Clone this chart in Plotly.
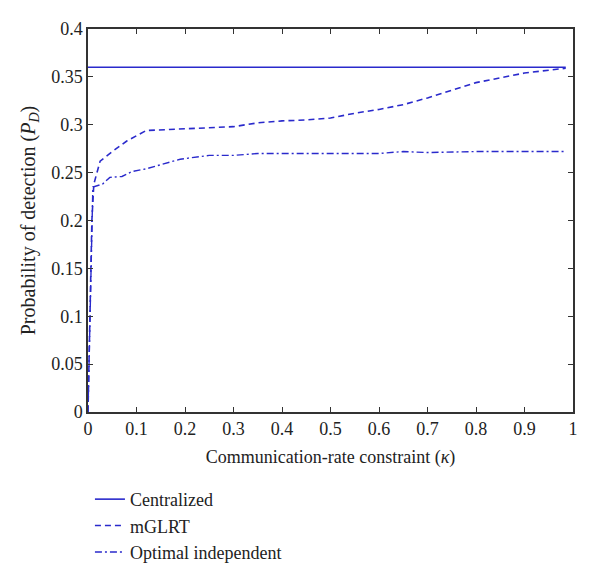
import plotly.graph_objects as go

# Data
central_x = [0.0, 0.985]
central_y = [0.36, 0.36]

mglrt_x = [0, 0.004, 0.008, 0.012, 0.025, 0.05, 0.08, 0.12, 0.2, 0.3, 0.35, 0.4,
           0.45, 0.5, 0.55, 0.6, 0.65, 0.7, 0.75, 0.8, 0.85, 0.9, 0.95, 0.985]
mglrt_y = [0, 0.1, 0.2, 0.238, 0.262, 0.272, 0.283, 0.294, 0.296, 0.298, 0.302, 0.304,
           0.305, 0.307, 0.312, 0.316, 0.321, 0.328, 0.336, 0.344, 0.349, 0.354, 0.357, 0.359]

opt_x = [0, 0.005, 0.01, 0.03, 0.045, 0.07, 0.09, 0.12, 0.16, 0.19, 0.25, 0.3, 0.35,
         0.4, 0.5, 0.6, 0.65, 0.7, 0.8, 0.9, 0.985]
opt_y = [0, 0.12, 0.235, 0.238, 0.245, 0.246, 0.251, 0.254, 0.26, 0.264, 0.268, 0.268,
         0.27, 0.27, 0.27, 0.27, 0.272, 0.271, 0.272, 0.272, 0.272]

x_ticks = [0, 0.1, 0.2, 0.3, 0.4, 0.5, 0.6, 0.7, 0.8, 0.9, 1]
x_ticklabels = ["0", "0.1", "0.2", "0.3", "0.4", "0.5", "0.6", "0.7", "0.8", "0.9", "1"]
y_ticks = [0, 0.05, 0.1, 0.15, 0.2, 0.25, 0.3, 0.35, 0.4]
y_ticklabels = ["0", "0.05", "0.1", "0.15", "0.2", "0.25", "0.3", "0.35", "0.4"]

blue = "#2a2acc"
font_family = "Liberation Serif, DejaVu Serif, serif"

fig = go.Figure()
fig.add_trace(go.Scatter(x=central_x, y=central_y, mode="lines", name="Centralized",
                         line=dict(color=blue, width=1.6, dash="solid")))
fig.add_trace(go.Scatter(x=mglrt_x, y=mglrt_y, mode="lines", name="mGLRT",
                         line=dict(color=blue, width=1.6, dash="6px,4px")))
fig.add_trace(go.Scatter(x=opt_x, y=opt_y, mode="lines", name="Optimal independent",
                         line=dict(color=blue, width=1.4, dash="7px,3px,2px,3px")))

axis_common = dict(
    showgrid=False, zeroline=False, showline=True, linecolor="#333333", linewidth=1.5,
    mirror="ticks", ticks="inside", ticklen=5, tickcolor="#333333", tickwidth=1.2,
    tickfont=dict(family=font_family, size=18, color="#222222"),
)

fig.update_layout(
    width=600, height=583,
    margin=dict(l=80, r=35, t=21, b=179),
    paper_bgcolor="white", plot_bgcolor="white",
    font=dict(family=font_family, size=18, color="#222222"),
    xaxis=dict(range=[0, 1], tickvals=x_ticks, ticktext=x_ticklabels,
               title=dict(text="Communication-rate constraint (<i>κ</i>)",
                          font=dict(family=font_family, size=18), standoff=12),
               **axis_common),
    yaxis=dict(range=[0, 0.4], tickvals=y_ticks, ticktext=y_ticklabels,
               title=dict(text="Probability of detection (<i>P</i><sub><i>D</i></sub>)",
                          font=dict(family=font_family, size=20), standoff=10),
               **axis_common),
    legend=dict(x=0.004, y=-0.18, xanchor="left", yanchor="top",
                bgcolor="rgba(0,0,0,0)", font=dict(family=font_family, size=18),
                tracegroupgap=0, itemwidth=30),
    showlegend=True,
)

fig.write_html("out.html")
